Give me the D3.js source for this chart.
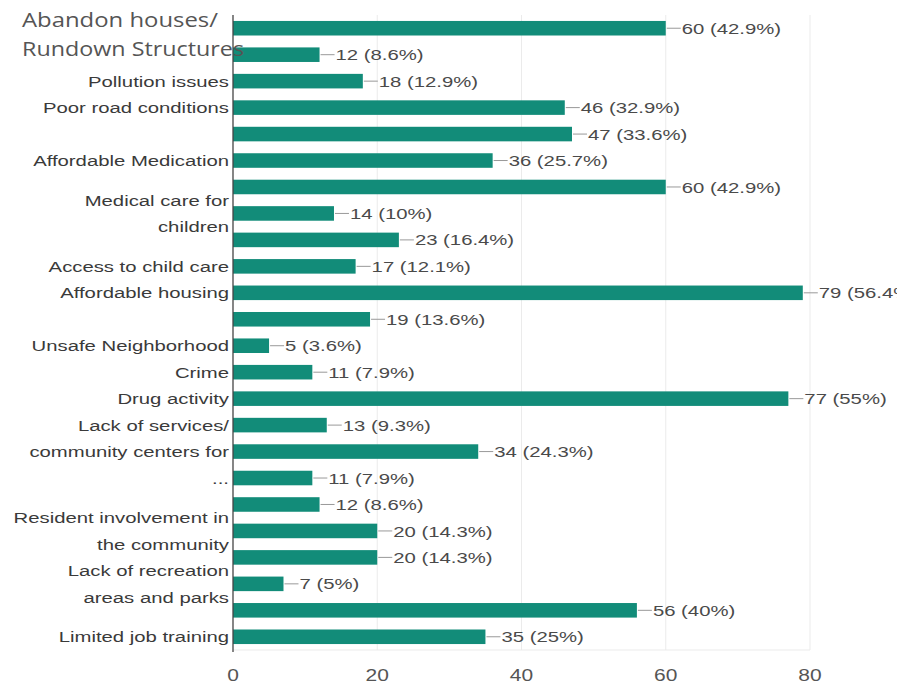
<!DOCTYPE html>
<html>
<head>
<meta charset="utf-8">
<script src="https://cdn.jsdelivr.net/npm/d3@7"></script>
<style>
  body { margin: 0; background: #fff; }
  svg text { font-family: "Liberation Sans", Arial, sans-serif; }
</style>
</head>
<body>
<svg id="chart_svg"></svg>
<script>
var width = 914, height = 688;
var margin = {top: 15, right: 104, bottom: 35, left: 233};
var stretch = 1.31; // the picture is wider than tall, text looks stretched

// category labels ('' = label not shown in the chart, '\n' = line break)
var categories = [
  'Abandon houses/\nRundown Structures', '', 'Pollution issues', 'Poor road conditions', '',
  'Affordable Medication', '', 'Medical care for\nchildren', '', 'Access to child care',
  'Affordable housing', '', 'Unsafe Neighborhood', 'Crime', 'Drug activity',
  '', 'Lack of services/\ncommunity centers for\n...', '', '', 'Resident involvement in\nthe community',
  '', 'Lack of recreation\nareas and parks', '', 'Limited job training'
];

var values = [60, 12, 18, 46, 47, 36, 60, 14, 23, 17, 79, 19, 5, 11, 77, 13, 34, 11, 12, 20, 20, 7, 56, 35];
var percents = ['42.9%', '8.6%', '12.9%', '32.9%', '33.6%', '25.7%', '42.9%', '10%', '16.4%', '12.1%',
  '56.4%', '13.6%', '3.6%', '7.9%', '55%', '9.3%', '24.3%', '7.9%', '8.6%', '14.3%',
  '14.3%', '5%', '40%', '25%'];
var xTicks = [0, 20, 40, 60, 80];

var svg = d3.select('#chart_svg')
  .attr('width', width)
  .attr('height', height);

var innerW = width - margin.left - margin.right;
var innerH = height - margin.top - margin.bottom - 3;

var x = d3.scaleLinear().domain([0, 80]).range([0, innerW]);
var y = d3.scaleBand()
  .domain(d3.range(values.length))
  .range([0, innerH])
  .paddingInner(0.45)
  .paddingOuter(0.225);

function stretchedText(parent, tx, ty, anchor) {
  return parent.append('g')
    .attr('transform', 'translate(' + tx + ',' + ty + ') scale(' + stretch + ',1)')
    .append('text')
    .attr('text-anchor', anchor)
    .attr('x', 0);
}

// the source picture is cropped on the right, cutting the longest label
svg.append('defs').append('clipPath')
  .attr('id', 'clip')
  .append('rect')
  .attr('x', 0).attr('y', 0)
  .attr('width', 897).attr('height', height);

var g = svg.append('g')
  .attr('transform', 'translate(' + margin.left + ',' + margin.top + ')');

// gridlines + frame
g.selectAll('.grid')
  .data(xTicks.slice(1))
  .enter()
  .append('line')
  .attr('x1', d => x(d)).attr('x2', d => x(d))
  .attr('y1', 0).attr('y2', innerH)
  .style('stroke', '#ebebeb')
  .style('stroke-width', 1);

g.append('line')
  .attr('x1', 0).attr('x2', x(80))
  .attr('y1', innerH).attr('y2', innerH)
  .style('stroke', '#ebebeb');

// bars
g.selectAll('.bar')
  .data(values)
  .enter()
  .append('rect')
  .attr('class', 'bar')
  .attr('x', 0)
  .attr('y', (d, i) => y(i))
  .attr('width', d => x(d))
  .attr('height', y.bandwidth())
  .style('fill', '#128c79');

// axis line
g.append('line')
  .attr('x1', 0).attr('x2', 0)
  .attr('y1', 0).attr('y2', innerH + 2)
  .style('stroke', '#444')
  .style('stroke-width', 1.3);

// value labels with leader lines
var vl = svg.append('g')
  .attr('clip-path', 'url(#clip)')
  .append('g')
  .attr('transform', 'translate(' + margin.left + ',' + margin.top + ')');

vl.selectAll('.leader')
  .data(values)
  .enter()
  .append('line')
  .attr('x1', d => x(d) + 1)
  .attr('x2', d => x(d) + 15)
  .attr('y1', (d, i) => y(i) + y.bandwidth() / 2)
  .attr('y2', (d, i) => y(i) + y.bandwidth() / 2)
  .style('stroke', '#999');

values.forEach(function(d, i) {
  stretchedText(vl, x(d) + 16, y(i) + y.bandwidth() / 2, 'start')
    .attr('dy', '0.36em')
    .style('font-size', '15.5px')
    .style('fill', '#4a4a4a')
    .text(d + ' (' + percents[i] + ')');
});

// category labels
var lineH = y.step();
categories.forEach(function(c, i) {
  if (!c) return;
  var lines = c.split('\n');
  if (i === 0) {
    // first label is set in a different, larger face, left aligned
    var lens = [196, 222];
    lines.forEach(function(l, k) {
      g.append('text')
        .attr('x', 22 - margin.left)
        .attr('y', y(i) + y.bandwidth() / 2 - 8 + k * 29)
        .attr('dy', '0.36em')
        .attr('textLength', lens[k])
        .attr('lengthAdjust', 'spacingAndGlyphs')
        .style('font-family', '"Open Sans", sans-serif')
        .style('font-size', '20px')
        .style('fill', '#555')
        .text(l);
    });
    return;
  }
  var y0 = y(i) + y.bandwidth() / 2 - (lines.length - 1) * lineH / 2;
  lines.forEach(function(l, k) {
    stretchedText(g, -4, y0 + k * lineH, 'end')
      .attr('dy', '0.36em')
      .style('font-size', '15.5px')
      .style('fill', '#3a3a3a')
      .text(l);
  });
});

// x tick labels
xTicks.forEach(function(d) {
  stretchedText(g, x(d), innerH + 31, 'middle')
    .style('font-size', '16px')
    .style('fill', '#555')
    .text(d);
});
</script>
</body>
</html>
